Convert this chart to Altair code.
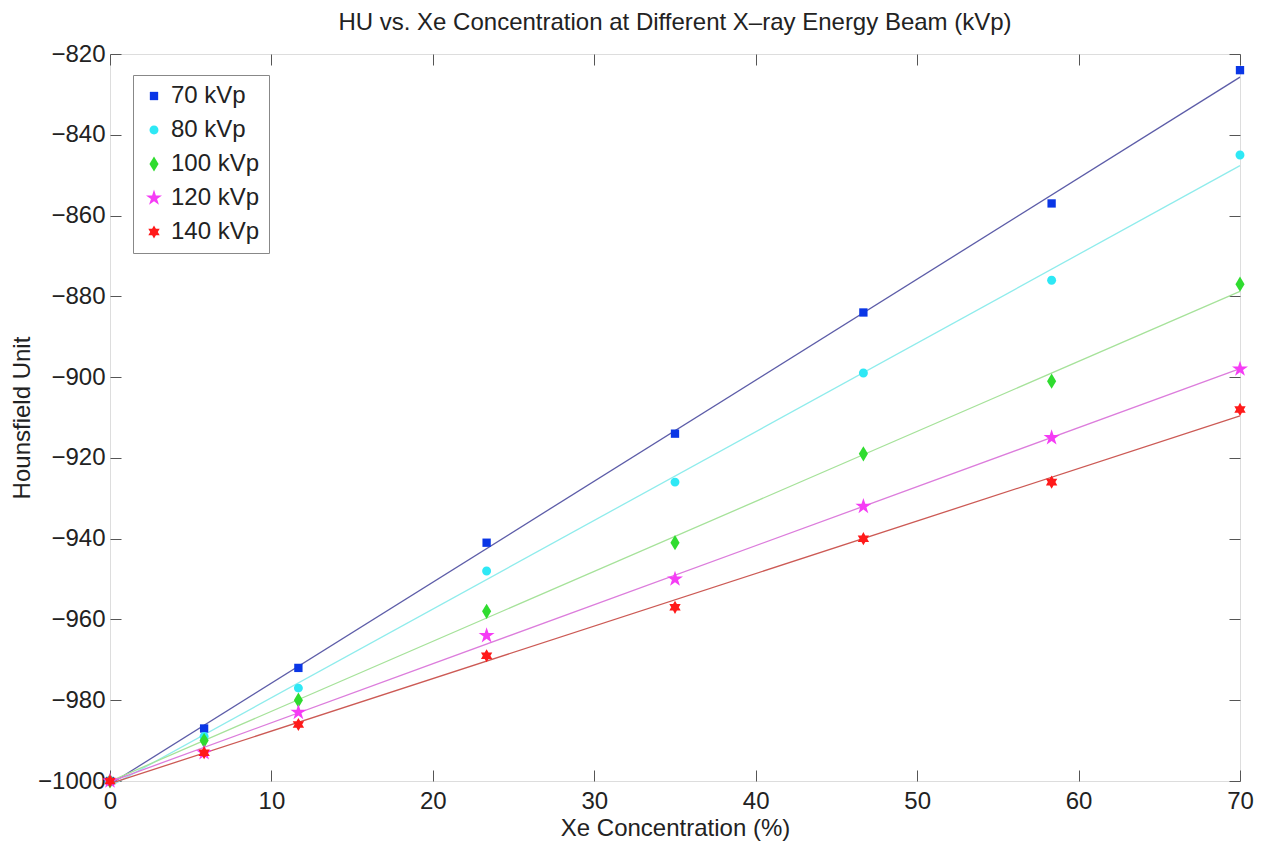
import altair as alt
import pandas as pd

# ---- data ----
xe = [0, 5.83, 11.67, 23.33, 35, 46.67, 58.33, 70]
series = ["70 kVp", "80 kVp", "100 kVp", "120 kVp", "140 kVp"]
hu_70 = [-1000, -987, -972, -941, -914, -884, -857, -824]
hu_80 = [-1000, -989, -977, -948, -926, -899, -876, -845]
hu_100 = [-1000, -990, -980, -958, -941, -919, -901, -877]
hu_120 = [-1000, -993, -983, -964, -950, -932, -915, -898]
hu_140 = [-1000, -993, -986, -969, -957, -940, -926, -908]
hu_all = [hu_70, hu_80, hu_100, hu_120, hu_140]

marker_colors = ["#0a36e6", "#2ee8f5", "#2fdc2f", "#f53cf5", "#ff1a1a"]
line_colors = ["#5c5ca8", "#8fecec", "#a6e29a", "#dc7ddc", "#cc5a55"]

x_ticks = [0, 10, 20, 30, 40, 50, 60, 70]
y_ticks = [-1000, -980, -960, -940, -920, -900, -880, -860, -840, -820]

FONT = "Liberation Sans"


# ---- marker shapes as SVG paths (unit box [-1,1]) ----
def path(points, k):
    pts = ["%.3f,%.3f" % (px * k, py * k) for px, py in points]
    return "M" + "L".join(pts) + "Z"


square = path([(-1, -1), (1, -1), (1, 1), (-1, 1)], 0.52)
circle = "M0.56,0A0.56,0.56,0,1,1,-0.56,0A0.56,0.56,0,1,1,0.56,0Z"
diamond = path([(0, -1), (0.6, 0), (0, 1), (-0.6, 0)], 0.95)
star = path([(0, -1), (0.225, -0.309), (0.951, -0.309), (0.363, 0.118),
             (0.588, 0.809), (0, 0.382), (-0.588, 0.809), (-0.363, 0.118),
             (-0.951, -0.309), (-0.225, -0.309)], 1.05)
hexagram = path([(0, -1), (0.289, -0.5), (0.866, -0.5), (0.577, 0),
                 (0.866, 0.5), (0.289, 0.5), (0, 1), (-0.289, 0.5),
                 (-0.866, 0.5), (-0.577, 0), (-0.866, -0.5), (-0.289, -0.5)], 0.82)
shapes = [square, circle, diamond, star, hexagram]

rows = []
for s, lc, vals in zip(series, line_colors, hu_all):
    for xv, yv in zip(xe, vals):
        rows.append({"xe": xv, "hu": yv, "series": s, "lc": lc})
df = pd.DataFrame(rows)

xscale = alt.Scale(domain=[0, 70], nice=False, zero=False)
yscale = alt.Scale(domain=[-1000, -820], nice=False, zero=False)

axis_common = dict(
    labelFont=FONT, labelFontSize=24, labelColor="#222222", labelFlush=False,
    titleFont=FONT, titleFontSize=24, titleFontWeight="normal", titleColor="#222222",
    tickColor="#555555", tickSize=11, offset=-11, domain=False, grid=False, format="d",
)

lines = alt.Chart(df).transform_regression(
    "xe", "hu", groupby=["series", "lc"], extent=[0, 70]
).mark_line(strokeWidth=1.3).encode(
    x=alt.X("xe:Q", scale=xscale,
            axis=alt.Axis(orient="top", labels=False, title=None, values=x_ticks, **axis_common)),
    y=alt.Y("hu:Q", scale=yscale,
            axis=alt.Axis(orient="right", labels=False, title=None, values=y_ticks, **axis_common)),
    color=alt.Color("lc:N", scale=None),
    detail="series:N",
)

points = alt.Chart(df).mark_point(filled=True, opacity=1, size=256, strokeWidth=0).encode(
    x=alt.X("xe:Q", scale=xscale, title="Xe Concentration (%)",
            axis=alt.Axis(orient="bottom", values=x_ticks, labelPadding=8, titlePadding=3, **axis_common)),
    y=alt.Y("hu:Q", scale=yscale, title="Hounsfield Unit",
            axis=alt.Axis(orient="left", values=y_ticks, labelPadding=5, titlePadding=3, **axis_common)),
    color=alt.Color("series:N", scale=alt.Scale(domain=series, range=marker_colors),
                    legend=alt.Legend(title=None, orient="none", legendX=23, legendY=21,
                                      labelFont=FONT, labelFontSize=24, labelColor="#222222",
                                      strokeColor="#888888", fillColor="white", padding=9,
                                      rowPadding=10, labelOffset=5, symbolSize=256,
                                      symbolStrokeWidth=0)),
    shape=alt.Shape("series:N", scale=alt.Scale(domain=series, range=shapes)),
)

chart = alt.layer(lines, points).resolve_axis(
    x="independent", y="independent"
).properties(
    width=1130,
    height=727,
    title=alt.TitleParams(
        "HU vs. Xe Concentration at Different X–ray Energy Beam (kVp)",
        font=FONT, fontSize=24, fontWeight="normal", color="#222222", offset=7,
    ),
    autosize=alt.AutoSizeParams(type="none"),
    padding={"left": 102, "top": 46, "right": 18, "bottom": 62},
).configure_view(
    stroke="#888888", strokeWidth=1
).configure(background="white")

chart.save("out.html", embed_options={"renderer": "svg", "actions": False})
